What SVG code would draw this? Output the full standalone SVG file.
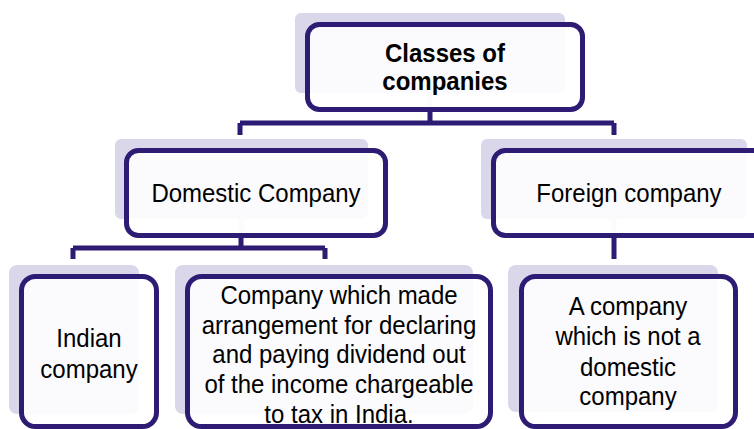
<svg xmlns="http://www.w3.org/2000/svg" width="754" height="429" viewBox="0 0 754 429">
  <style>
    .shadow { fill: #d9d7e9; }
    .box { fill: #ffffff; fill-opacity: 0.88; stroke: #2d1b74; stroke-width: 5; }
    .conn { stroke: #2d1b74; stroke-width: 5; fill: none; }
    .stub { stroke: #d9d7e9; stroke-width: 5; fill: none; }
    .t { font-family: "Liberation Sans", Arial, sans-serif; font-size: 26.5px; fill: #000; text-anchor: middle; }
    .b { font-weight: bold; }
  </style>
  <rect width="754" height="429" fill="#ffffff"/>
  <g id="connectors">
    <path class="conn" d="M430 110 V123 M240 123 H614 M240 123 V135 M614 123 V135"/>
    <path class="conn" d="M241 236 V248 M73 248 H325 M73 248 V259 M325 248 V259"/>
    <path class="conn" d="M614 236 V259"/>
  </g>
  <g id="classes">
    <rect class="shadow" x="295" y="13" width="270" height="80" rx="6"/>
    <line class="stub" x1="430" y1="93" x2="430" y2="110"/>
    <rect class="box" x="307.5" y="24.5" width="275" height="85" rx="12"/>
    <text class="t b" transform="translate(445 62) scale(0.905 1)">Classes of</text>
    <text class="t b" transform="translate(445 90) scale(0.905 1)">companies</text>
  </g>
  <g id="domestic">
    <rect class="shadow" x="115" y="139" width="253" height="80" rx="6"/>
    <line class="stub" x1="241" y1="219" x2="241" y2="236"/>
    <rect class="box" x="126.5" y="150.5" width="259" height="85" rx="12"/>
    <text class="t" transform="translate(256 202) scale(0.905 1)">Domestic Company</text>
  </g>
  <g id="foreign">
    <rect class="shadow" x="481" y="139" width="266" height="80" rx="6"/>
    <line class="stub" x1="614" y1="219" x2="614" y2="236"/>
    <rect class="box" x="493.5" y="150.5" width="272" height="85" rx="12"/>
    <text class="t" transform="translate(629 202) scale(0.905 1)">Foreign company</text>
  </g>
  <g id="indian">
    <rect class="shadow" x="9" y="265" width="130" height="149" rx="8"/>
    <rect class="box" x="21.5" y="276.5" width="135" height="150" rx="14"/>
    <text class="t" transform="translate(89 347) scale(0.905 1)">Indian</text>
    <text class="t" transform="translate(89 378) scale(0.905 1)">company</text>
  </g>
  <g id="arrangement">
    <rect class="shadow" x="175" y="265" width="298" height="149" rx="8"/>
    <rect class="box" x="187.5" y="276.5" width="303" height="150" rx="14"/>
    <text class="t" transform="translate(339 304) scale(0.905 1)">Company which made</text>
    <text class="t" transform="translate(339 334) scale(0.905 1)">arrangement for declaring</text>
    <text class="t" transform="translate(339 363) scale(0.905 1)">and paying dividend out</text>
    <text class="t" transform="translate(339 393) scale(0.905 1)">of the income chargeable</text>
    <text class="t" transform="translate(339 423) scale(0.905 1)">to tax in India.</text>
  </g>
  <g id="notdomestic">
    <rect class="shadow" x="508" y="265" width="210" height="147" rx="8"/>
    <rect class="box" x="521.5" y="276.5" width="214" height="150" rx="14"/>
    <text class="t" transform="translate(628 315) scale(0.905 1)">A company</text>
    <text class="t" transform="translate(628 345) scale(0.905 1)">which is not a</text>
    <text class="t" transform="translate(628 376) scale(0.905 1)">domestic</text>
    <text class="t" transform="translate(628 405) scale(0.905 1)">company</text>
  </g>
</svg>
